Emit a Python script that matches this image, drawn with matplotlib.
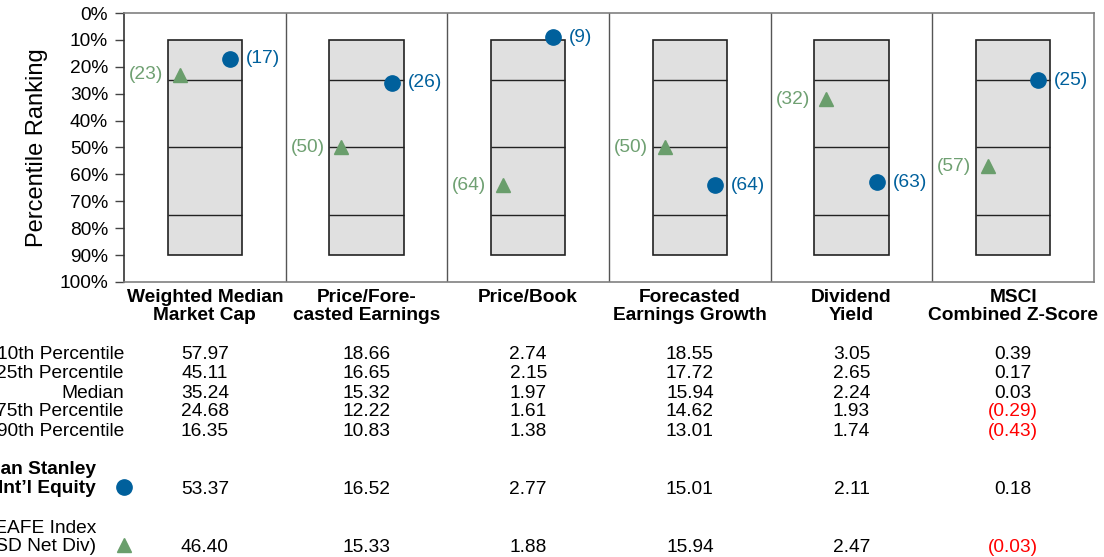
import matplotlib
matplotlib.use("Agg")
import matplotlib.pyplot as plt
from matplotlib import transforms

plt.rcParams['font.family'] = ['Liberation Sans', 'DejaVu Sans']

# ---------------- data ----------------
categories = ["Weighted Median\nMarket Cap", "Price/Fore-\ncasted Earnings", "Price/Book",
              "Forecasted\nEarnings Growth", "Dividend\nYield", "MSCI\nCombined Z-Score"]
row_labels = ["10th Percentile", "25th Percentile", "Median", "75th Percentile", "90th Percentile"]
pct10 = [57.97, 18.66, 2.74, 18.55, 3.05, 0.39]
pct25 = [45.11, 16.65, 2.15, 17.72, 2.65, 0.17]
median = [35.24, 15.32, 1.97, 15.94, 2.24, 0.03]
pct75 = [24.68, 12.22, 1.61, 14.62, 1.93, -0.29]
pct90 = [16.35, 10.83, 1.38, 13.01, 1.74, -0.43]
portfolio_name = "Morgan Stanley\nInt\u2019l Equity"
benchmark_name = "MSCI EAFE Index\n(USD Net Div)"
portfolio_vals = [53.37, 16.52, 2.77, 15.01, 2.11, 0.18]
benchmark_vals = [46.40, 15.33, 1.88, 15.94, 2.47, -0.03]
portfolio_rank = [17, 26, 9, 64, 63, 25]
benchmark_rank = [23, 50, 64, 50, 32, 57]
box_low, box_high = 10, 90
quartiles = [25, 50, 75]
yticks = list(range(0, 101, 10))

# ---------------- style ----------------
BLUE = "#00609c"
GREEN = "#6a9e6c"
GREEN_TXT = "#6fa072"
RED = "#ff0000"
W, H = 1104, 557
FS = 13.8

fig = plt.figure(figsize=(W / 100, H / 100), dpi=100)
ax_l, ax_r, ax_t, ax_b = 124, 1094, 13, 282
ax = fig.add_axes([ax_l / W, 1 - ax_b / H, (ax_r - ax_l) / W, (ax_b - ax_t) / H])
n = len(categories)
ax.set_xlim(0, n)
ax.set_ylim(100, 0)

box_w = 0.458
for i in range(n):
    c = i + 0.5
    ax.bar(c, box_high - box_low, bottom=box_low, width=box_w, color="#e0e0e0",
           edgecolor="#222222", linewidth=1.2, zorder=2)
    ax.hlines(quartiles, c - box_w / 2, c + box_w / 2, color="#222222", linewidth=1.0, zorder=3)

xs = [i + 0.5 for i in range(n)]
ax.plot([x + 0.155 for x in xs], portfolio_rank, 'o', color=BLUE, markersize=11,
        linestyle='none', zorder=5, clip_on=False)
ax.plot([x - 0.155 for x in xs], benchmark_rank, '^', color=GREEN, markersize=9.5,
        linestyle='none', zorder=5, clip_on=False)
for i in range(n):
    ax.annotate(f"({portfolio_rank[i]})", (xs[i] + 0.155, portfolio_rank[i]),
                xytext=(11.5, 0), textcoords='offset points', ha='left', va='center',
                color=BLUE, fontsize=FS, zorder=6)
    ax.annotate(f"({benchmark_rank[i]})", (xs[i] - 0.155, benchmark_rank[i]),
                xytext=(-12, 0), textcoords='offset points', ha='right', va='center',
                color=GREEN_TXT, fontsize=FS, zorder=6)

for k in range(1, n):
    ax.axvline(k, color="#555555", linewidth=1.0, zorder=1)

ax.set_yticks(yticks)
ax.set_yticklabels([f"{t}%" for t in yticks], fontsize=FS)
ax.tick_params(axis='y', length=6.5, width=1, pad=5, color="#444444")
ax.set_xticks([])
for s in ["top", "right", "bottom"]:
    ax.spines[s].set_color("#808080")
    ax.spines[s].set_linewidth(1.2)
ax.spines["left"].set_color("#333333")
ax.spines["left"].set_linewidth(1.2)
ax.set_ylabel("Percentile Ranking", fontsize=17, labelpad=8)

# blended transform: x in data, y in figure pixels from top
trans = transforms.blended_transform_factory(ax.transData, fig.transFigure)
def fy(py):
    return 1 - py / H

# category labels
for i, cat in enumerate(categories):
    ax.text(xs[i], fy(288.5), cat, transform=trans, ha='center', va='top',
            fontsize=FS, fontweight='bold', linespacing=1.1, clip_on=False)

# table
row_y = [354.5, 373.5, 393, 412, 431.5]
rows = [pct10, pct25, median, pct75, pct90]
lab_x = 0
def fmt(v):
    return (f"({abs(v):.2f})", RED) if v < 0 else (f"{v:.2f}", "black")

for r, (lab, vals) in enumerate(zip(row_labels, rows)):
    ax.text(lab_x, fy(row_y[r]), lab, transform=trans, ha='right', va='center',
            fontsize=FS, clip_on=False)
    for i, v in enumerate(vals):
        s, col = fmt(v)
        ax.text(xs[i], fy(row_y[r]), s, transform=trans, ha='center', va='center',
                fontsize=FS, color=col, clip_on=False)

name_x = -28 / 161.7
ax.text(name_x, fy(479), portfolio_name, transform=trans, ha='right', va='center',
        fontsize=FS, fontweight='bold', linespacing=1.15, clip_on=False)
ax.text(name_x, fy(537.5), benchmark_name, transform=trans, ha='right', va='center',
        fontsize=FS, linespacing=1.15, clip_on=False)
ax.plot([0], [fy(487)], 'o', transform=trans, color=BLUE, markersize=11, clip_on=False)
ax.plot([0], [fy(545)], '^', transform=trans, color=GREEN, markersize=9.5, clip_on=False)
for i in range(n):
    s, col = fmt(portfolio_vals[i])
    ax.text(xs[i], fy(489), s, transform=trans, ha='center', va='center',
            fontsize=FS, color=col, clip_on=False)
    s, col = fmt(benchmark_vals[i])
    ax.text(xs[i], fy(547), s, transform=trans, ha='center', va='center',
            fontsize=FS, color=col, clip_on=False)

fig.savefig("out.png", dpi=100)
